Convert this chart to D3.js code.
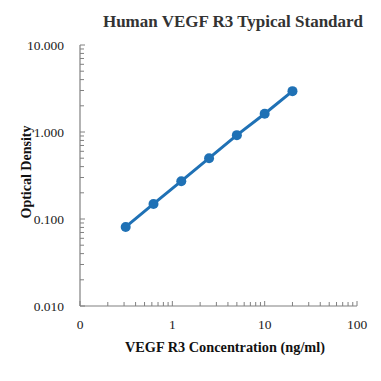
<!DOCTYPE html>
<html lang="en">
<head>
    <meta charset="UTF-8">
    <title>Human VEGF R3 Typical Standard</title>
    <script src="https://d3js.org/d3.v7.min.js"></script>
    <style>
        body { margin: 0; background: #fff; }
        svg text { font-family: "Liberation Serif", "Times New Roman", serif; }
    </style>
</head>
<body>
    <div id="chart"></div>
    <script>
        const concentration = [0.3125, 0.625, 1.25, 2.5, 5, 10, 20];
        const od = [0.081, 0.149, 0.272, 0.50, 0.92, 1.62, 2.95];
        const xTicks = [0.1, 1, 10, 100];
        const xTickLabels = ["0", "1", "10", "100"];
        const yTicks = [0.01, 0.1, 1, 10];
        const yTickLabels = ["0.010", "0.100", "1.000", "10.000"];

        const W = 381, H = 381;
        const plotL = 80, plotR = 357, plotT = 45, plotB = 306;
        const blue = "#1f71b5";
        const axisCol = "#808080";

        const svg = d3.select("#chart").append("svg")
            .attr("width", W).attr("height", H);

        const x = d3.scaleLog().domain([0.1, 100]).range([plotL, plotR]);
        const y = d3.scaleLog().domain([0.01, 10]).range([plotB, plotT]);

        // minor ticks for each decade
        function minors(lo, hi) {
            const out = [];
            for (let d = lo; d < hi; d *= 10) {
                for (let k = 2; k <= 9; k++) out.push(d * k);
            }
            return out;
        }

        // y axis
        const yAxis = svg.append("g");
        yAxis.append("line")
            .attr("x1", plotL).attr("x2", plotL)
            .attr("y1", y(10)).attr("y2", y(0.01))
            .attr("stroke", axisCol).attr("stroke-width", 1.2);
        yAxis.selectAll(".ymin").data(minors(0.01, 10)).enter().append("line")
            .attr("x1", plotL).attr("x2", plotL + 4)
            .attr("y1", d => y(d)).attr("y2", d => y(d))
            .attr("stroke", axisCol);
        yAxis.selectAll(".ymaj").data(yTicks).enter().append("line")
            .attr("x1", plotL).attr("x2", plotL + 5)
            .attr("y1", d => y(d)).attr("y2", d => y(d))
            .attr("stroke", axisCol);
        yAxis.selectAll(".ylab").data(yTicks).enter().append("text")
            .attr("x", 64).attr("y", d => y(d) + 4.5)
            .attr("text-anchor", "end")
            .attr("font-size", 13.5).attr("fill", "#222")
            .text((d, i) => yTickLabels[i]);

        // x axis
        const xAxis = svg.append("g");
        xAxis.append("line")
            .attr("x1", x(0.1)).attr("x2", x(100))
            .attr("y1", plotB).attr("y2", plotB)
            .attr("stroke", axisCol).attr("stroke-width", 1.2);
        xAxis.selectAll(".xmin").data(minors(0.1, 100)).enter().append("line")
            .attr("x1", d => x(d)).attr("x2", d => x(d))
            .attr("y1", plotB).attr("y2", plotB - 4)
            .attr("stroke", axisCol);
        xAxis.selectAll(".xmaj").data(xTicks).enter().append("line")
            .attr("x1", d => x(d)).attr("x2", d => x(d))
            .attr("y1", plotB).attr("y2", plotB - 5)
            .attr("stroke", axisCol);
        xAxis.selectAll(".xlab").data(xTicks).enter().append("text")
            .attr("x", d => x(d)).attr("y", 329)
            .attr("text-anchor", "middle")
            .attr("font-size", 13.5).attr("fill", "#222")
            .text((d, i) => xTickLabels[i]);

        // data
        const pts = concentration.map((c, i) => [c, od[i]]);
        svg.append("path")
            .datum(pts)
            .attr("fill", "none")
            .attr("stroke", blue)
            .attr("stroke-width", 3)
            .attr("d", d3.line().x(d => x(d[0])).y(d => y(d[1])));
        svg.selectAll(".pt").data(pts).enter().append("circle")
            .attr("cx", d => x(d[0])).attr("cy", d => y(d[1]))
            .attr("r", 5).attr("fill", blue);

        // titles
        svg.append("text")
            .attr("x", 233).attr("y", 27)
            .attr("text-anchor", "middle")
            .attr("font-size", 17).attr("font-weight", "bold").attr("fill", "#333")
            .text("Human VEGF R3 Typical Standard");
        svg.append("text")
            .attr("x", 225).attr("y", 352)
            .attr("text-anchor", "middle")
            .attr("font-size", 14.3).attr("font-weight", "bold").attr("fill", "#111")
            .text("VEGF R3 Concentration (ng/ml)");
        svg.append("text")
            .attr("transform", "translate(31,172) rotate(-90)")
            .attr("text-anchor", "middle")
            .attr("font-size", 14).attr("font-weight", "bold").attr("fill", "#111")
            .text("Optical Density");
    </script>
</body>
</html>
